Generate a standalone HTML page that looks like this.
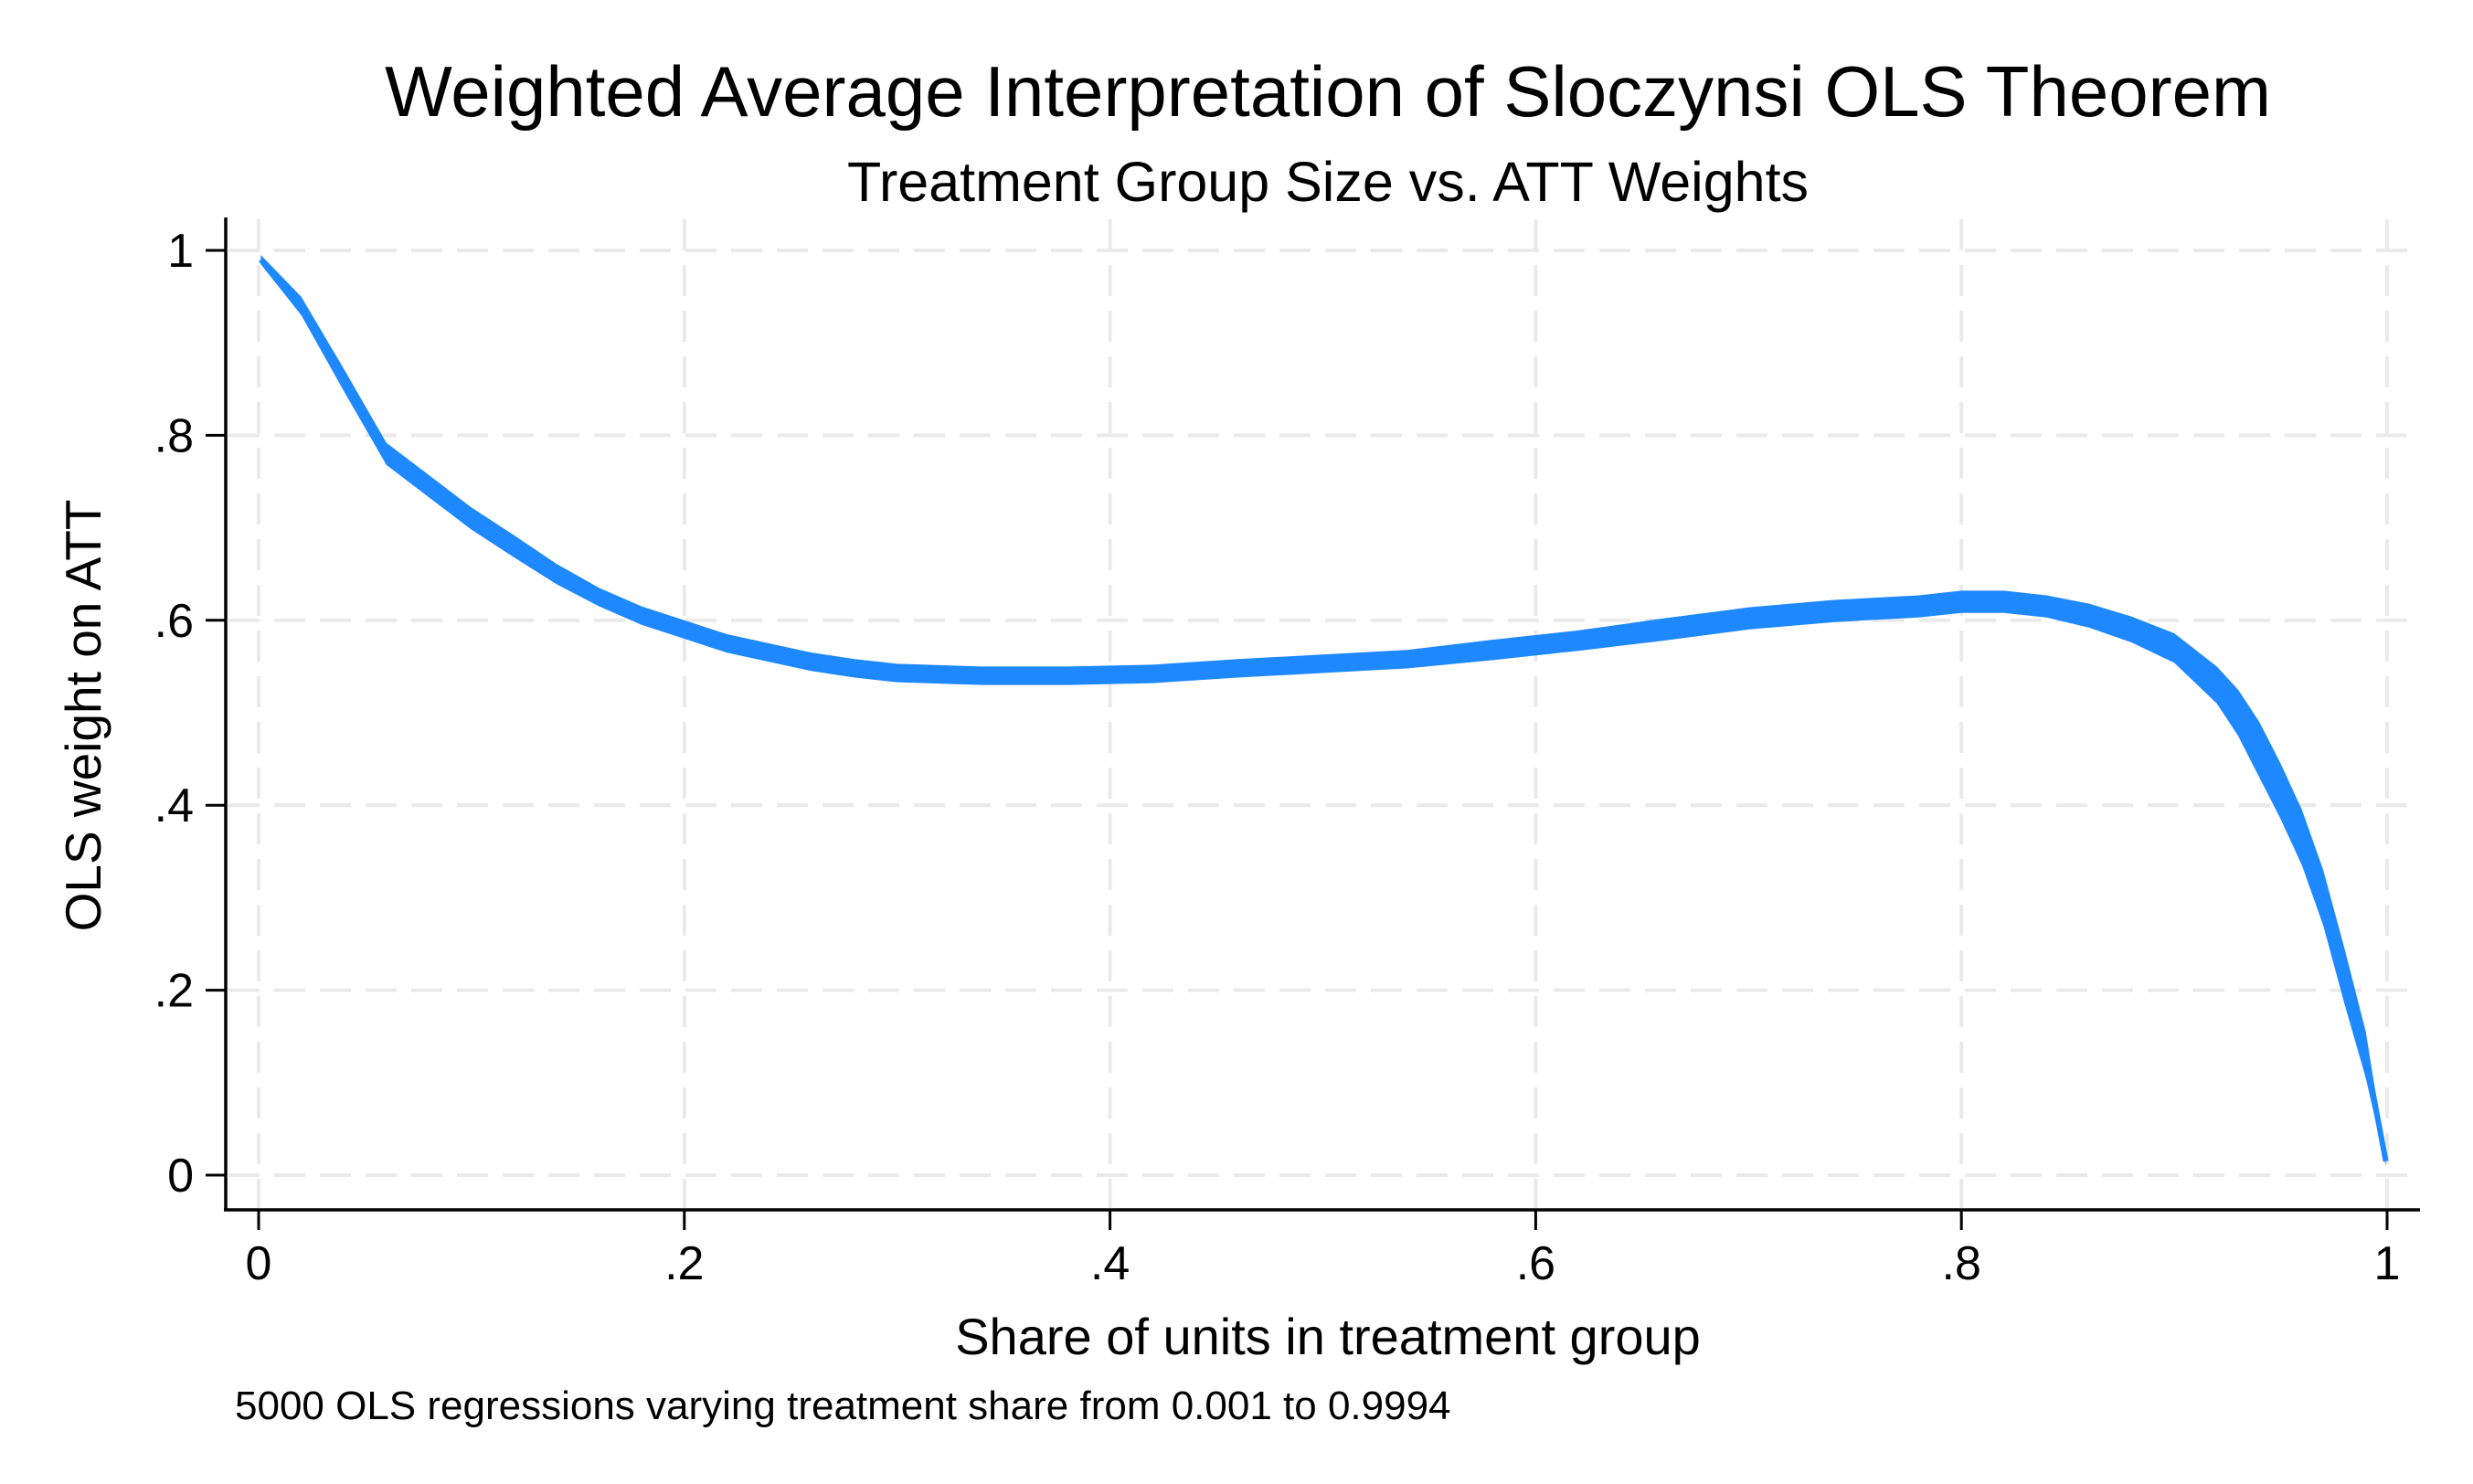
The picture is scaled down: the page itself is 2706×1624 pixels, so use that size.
<!DOCTYPE html>
<html><head><meta charset="utf-8"><style>
html,body{margin:0;padding:0;background:#fff;}
svg{display:block;font-family:"Liberation Sans",sans-serif;}
</style></head><body>
<svg id="chart" width="2706" height="1624" viewBox="0 0 2706 1624">
<rect width="2706" height="1624" fill="#fff"/>
<text x="1453" y="127" font-size="78" text-anchor="middle">Weighted Average Interpretation of Sloczynsi OLS Theorem</text>
<text x="1453" y="220" font-size="61" text-anchor="middle">Treatment Group Size vs. ATT Weights</text>
<g id="grid"></g>
<g id="axes"></g>
<g id="series"></g>
<text transform="translate(110,783) rotate(-90)" font-size="55" text-anchor="middle">OLS weight on ATT</text>
<text x="1453" y="1482" font-size="56" text-anchor="middle">Share of units in treatment group</text>
<text x="257" y="1553" font-size="44">5000 OLS regressions varying treatment share from 0.001 to 0.9994</text>
</svg>
<script>
const xValues = [0.001,0.02,0.04,0.05,0.06,0.08,0.10,0.12,0.14,0.16,0.18,0.20,0.22,0.24,0.26,0.28,0.30,0.34,0.38,0.42,0.46,0.50,0.54,0.58,0.62,0.66,0.70,0.74,0.78,0.80,0.82,0.84,0.86,0.88,0.90,0.92,0.93,0.94,0.95,0.96,0.97,0.98,0.99,0.9994];
const weightValues = [0.99,0.94,0.86,0.82,0.78,0.745,0.71,0.68,0.65,0.625,0.605,0.59,0.575,0.565,0.555,0.548,0.543,0.54,0.54,0.542,0.548,0.553,0.558,0.568,0.578,0.59,0.602,0.61,0.615,0.62,0.62,0.615,0.605,0.59,0.57,0.53,0.50,0.46,0.415,0.365,0.30,0.215,0.13,0.015];
const noiseBand = [0.005,0.01,0.012,0.012,0.012,0.012,0.012,0.012,0.011,0.01,0.01,0.01,0.01,0.01,0.01,0.01,0.01,0.01,0.01,0.01,0.01,0.01,0.01,0.011,0.011,0.012,0.012,0.012,0.012,0.012,0.012,0.012,0.013,0.014,0.016,0.02,0.025,0.03,0.03,0.03,0.03,0.03,0.025,0.005];
const xTicks = [0,0.2,0.4,0.6,0.8,1];
const xTickLabels = ["0",".2",".4",".6",".8","1"];
const yTicks = [0,0.2,0.4,0.6,0.8,1];
const yTickLabels = ["0",".2",".4",".6",".8","1"];

const NS = "http://www.w3.org/2000/svg";
const X0 = 283, X1 = 2612, Y0 = 1286, Y1 = 274;
const sx = v => X0 + v * (X1 - X0);
const sy = v => Y0 - v * (Y0 - Y1);
function mk(tag, attrs, parent){const e=document.createElementNS(NS,tag);for(const k in attrs)e.setAttribute(k,attrs[k]);parent.appendChild(e);return e;}
const grid = document.getElementById('grid'), axes = document.getElementById('axes'), series = document.getElementById('series');

yTicks.forEach((t,i)=>{
  const g = mk('line',{x1:250,x2:2648,y1:sy(t),y2:sy(t),stroke:'#eaeaea','stroke-width':4,'stroke-dasharray':'34 16'},grid);
  
  
  const tk = mk('line',{x1:225,x2:247,y1:sy(t),y2:sy(t),stroke:'#000','stroke-width':3},axes);
  
  
  const lb = mk('text',{x:212,y:sy(t)+18,'font-size':52,'text-anchor':'end'},axes);
  lb.textContent = yTickLabels[i];
  
  
});
xTicks.forEach((t,i)=>{
  const g = mk('line',{x1:sx(t),x2:sx(t),y1:240,y2:1322,stroke:'#eaeaea','stroke-width':4,'stroke-dasharray':'34 16'},grid);
  
  
  const tk = mk('line',{x1:sx(t),x2:sx(t),y1:1324,y2:1346,stroke:'#000','stroke-width':3},axes);
  
  
  const lb = mk('text',{x:sx(t),y:1400,'font-size':52,'text-anchor':'middle'},axes);
  lb.textContent = xTickLabels[i];
  
  
});
const ya = mk('line',{x1:247,x2:247,y1:238,y2:1325,stroke:'#000','stroke-width':3.5},axes);


const xa = mk('line',{x1:245,x2:2648,y1:1324,y2:1324,stroke:'#000','stroke-width':3.5},axes);



let up = [], dn = [];
xValues.forEach((x,i)=>{up.push(sx(x)+','+sy(weightValues[i]+noiseBand[i]));dn.unshift(sx(x)+','+sy(weightValues[i]-noiseBand[i]));});
const band = mk('polygon',{points:up.concat(dn).join(' '),fill:'#1e88ff'},series);


const pts = xValues.map((x,i)=>sx(x)+','+sy(weightValues[i])).join(' ');
const line = mk('polyline',{points:pts,fill:'none',stroke:'#1e88ff','stroke-width':6,'stroke-linejoin':'round'},series);


</script>
</body></html>
